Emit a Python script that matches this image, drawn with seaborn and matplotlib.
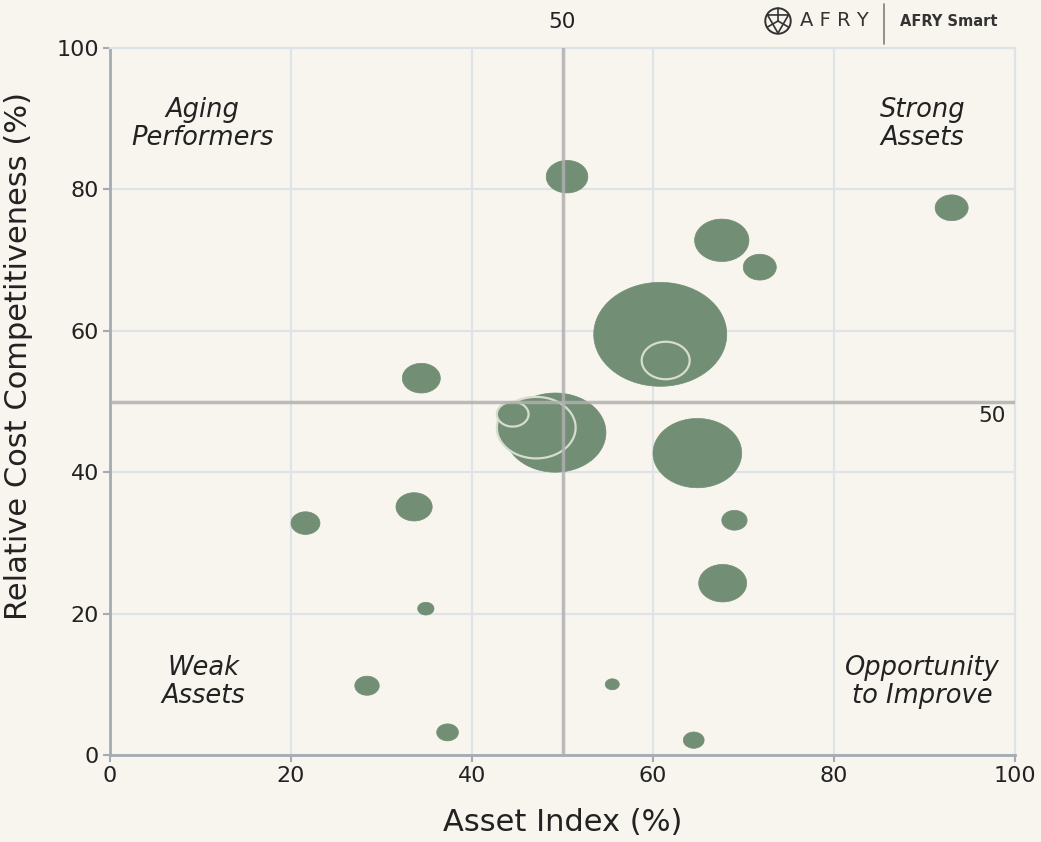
import numpy as np
import matplotlib.pyplot as plt
import seaborn as sns
from matplotlib.path import Path
from matplotlib.markers import MarkerStyle
from matplotlib.patches import Circle

# Bubble data (Asset Index %, Relative Cost Competitiveness %, bubble diameter in x-units)
asset_index = [50.5, 93.0, 67.6, 71.8, 60.8, 34.4, 49.2, 64.9, 21.6, 33.6,
               69.0, 67.7, 34.9, 28.4, 55.5, 37.3, 64.5]
cost_comp = [81.8, 77.4, 72.8, 69.0, 59.5, 53.3, 45.6, 42.7, 32.8, 35.1,
             33.2, 24.3, 20.7, 9.8, 10.0, 3.2, 2.1]
diameter = [4.6, 3.65, 6.0, 3.65, 14.7, 4.2, 11.2, 9.8, 3.2, 4.0,
            2.8, 5.3, 1.8, 2.7, 1.55, 2.4, 2.3]

# Highlighted (outlined) bubbles, drawn on top
ring_x = [47.1, 44.5, 61.4]
ring_y = [46.3, 48.2, 55.8]
ring_d = [8.7, 3.5, 5.3]

quadrants = ["Aging\nPerformers", "Strong\nAssets", "Weak\nAssets", "Opportunity\nto Improve"]
quad_x = [10.2, 89.8, 10.3, 89.8]
quad_y = [89.2, 89.2, 10.3, 10.3]

ticks = [0, 20, 40, 60, 80, 100]

bg = "#f8f4ee"
green = "#728e74"
ring_col = "#d6ddcf"
grid_col = "#dde3e8"
spine_col = "#a3abb3"
mid_col = "#b0b0b0"

sns.set_theme(style="white", rc={"axes.facecolor": bg, "figure.facecolor": bg})
plt.rcParams["font.family"] = ["DejaVu Sans"]

W, H, DPI = 1041, 842, 100
fig = plt.figure(figsize=(W / DPI, H / DPI), dpi=DPI)
left, right, top, bottom = 110, 1015, 48, 755
ax = fig.add_axes([left / W, (H - bottom) / H, (right - left) / W, (bottom - top) / H])

# bubbles are circles in data units -> ellipse marker on screen
px_x = (right - left) / 100
px_y = (bottom - top) / 100
ratio = px_x / px_y
t = np.linspace(0, 2 * np.pi, 120)
ellipse = MarkerStyle(Path(np.column_stack([np.cos(t), np.sin(t) / ratio]), closed=True))
pt_per_unit = px_x * 72 / DPI

sizes = [(d * pt_per_unit) ** 2 for d in diameter]
sns.scatterplot(x=asset_index, y=cost_comp, s=sizes, marker=ellipse, color=green,
                edgecolor=green, linewidth=0.5, ax=ax, zorder=3)
ring_sizes = [(d * pt_per_unit) ** 2 for d in ring_d]
sns.scatterplot(x=ring_x, y=ring_y, s=ring_sizes, marker=ellipse, color=green,
                edgecolor=ring_col, linewidth=1.6, ax=ax, zorder=4)

ax.set_xlim(0, 100)
ax.set_ylim(0, 100)
ax.set_xticks(ticks)
ax.set_yticks(ticks)
ax.grid(True, color=grid_col, lw=1.5, zorder=0)
ax.set_axisbelow(True)

# quadrant dividers
ax.axvline(50, color=mid_col, lw=2.5, zorder=5, alpha=0.85)
ax.axhline(50, color=mid_col, lw=2.5, zorder=5, alpha=0.85)
ax.text(50, 102.3, "50", ha="center", va="bottom", fontsize=15.5, color="#222222", clip_on=False)
ax.text(97.5, 49.4, "50", ha="center", va="top", fontsize=15.5, color="#222222")

for label, qx, qy in zip(quadrants, quad_x, quad_y):
    ax.text(qx, qy, label, ha="center", va="center", fontsize=18.5, style="italic",
            color="#222222", linespacing=1.1)

for s in ["top", "right"]:
    ax.spines[s].set_color(grid_col)
    ax.spines[s].set_linewidth(1.5)
for s in ["left", "bottom"]:
    ax.spines[s].set_color(spine_col)
    ax.spines[s].set_linewidth(2)
ax.tick_params(axis="both", which="major", length=5, width=1.5, color=spine_col,
               labelsize=16, labelcolor="#222222", pad=3, bottom=True, left=True)

ax.set_xlabel("Asset Index (%)", fontsize=22, color="#222222")
ax.set_ylabel("Relative Cost Competitiveness (%)", fontsize=22, color="#222222")
ax.xaxis.set_label_coords(0.5, -0.075)
ax.yaxis.set_label_coords(-0.085, 0.565)

# logo
logo = fig.add_axes([764 / W, 1 - 36 / H, 28 / W, 30 / H])
logo.set_xlim(-1.1, 1.1)
logo.set_ylim(-1.1, 1.1)
logo.set_aspect("equal")
logo.axis("off")
logo.add_patch(Circle((0, 0), 1, fill=False, lw=1.4, color="#333333"))
ang = np.deg2rad([90, 210, 330])
for a in ang:
    logo.plot([0, np.cos(a)], [0, np.sin(a)], color="#333333", lw=1.2)
tri = np.deg2rad([150, 270, 30, 150])
logo.plot(0.95 * np.cos(tri), 0.95 * np.sin(tri), color="#333333", lw=1.2)

fig.text(800 / W, 1 - 21 / H, "A F R Y", ha="left", va="center", fontsize=14, color="#333333")
fig.add_artist(plt.Line2D([884 / W, 884 / W], [1 - 44 / H, 1 - 4 / H], color="#888888", lw=1.3))
fig.text(900 / W, 1 - 21 / H, "AFRY Smart", ha="left", va="center", fontsize=10.5,
         fontweight="bold", color="#333333")

fig.savefig("out.png", dpi=DPI, facecolor=bg)
